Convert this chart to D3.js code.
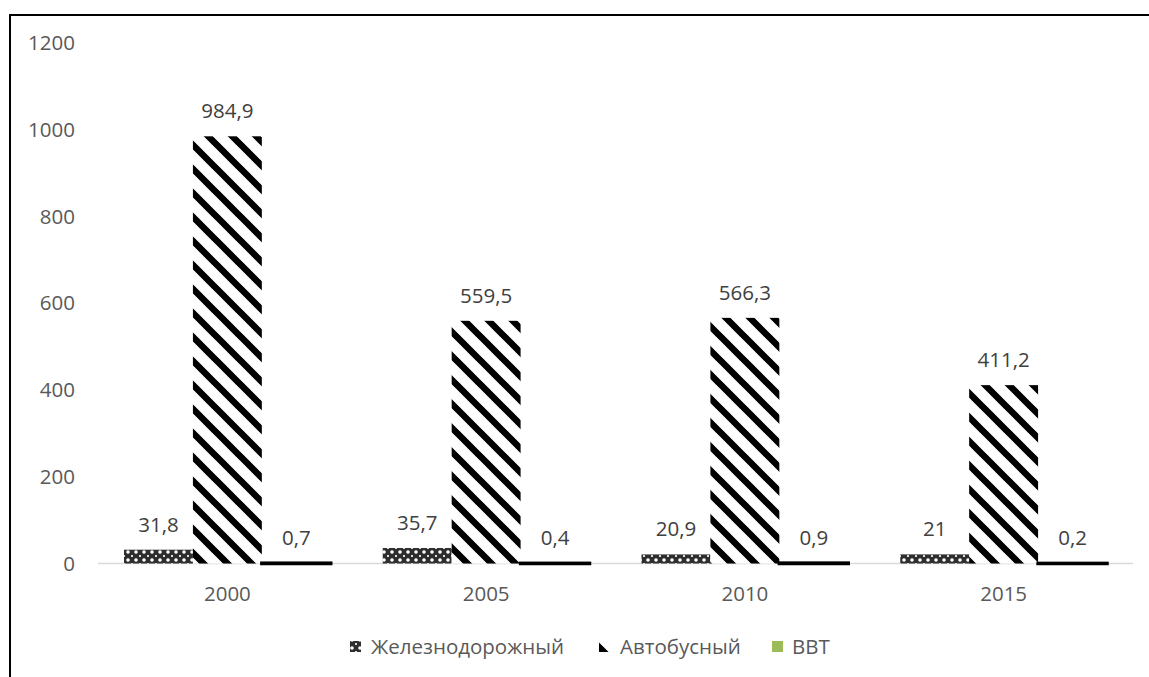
<!DOCTYPE html>
<html><head><meta charset="utf-8">
<script src="https://cdn.jsdelivr.net/npm/d3@7"></script>
<style>body{margin:0;background:#fff}svg{display:block}</style>
</head><body>
<svg id="c" width="1149" height="677"></svg>
<script>
const years = ["2000","2005","2010","2015"];
const seriesNames = ["Железнодорожный","Автобусный","ВВТ"];
const rail = [31.8, 35.7, 20.9, 21];
const bus = [984.9, 559.5, 566.3, 411.2];
const vvt = [0.7, 0.4, 0.9, 0.2];
const yTicks = [0,200,400,600,800,1000,1200];

const svg = d3.select("#c");
const font = "'Open Sans', sans-serif";
const fs = 20.5;
const txt = "#595959";
const defs = svg.append("defs");

// rail pattern
const pr = defs.append("pattern").attr("id","pRail").attr("patternUnits","userSpaceOnUse")
  .attr("width",8).attr("height",8);
pr.append("rect").attr("width",8).attr("height",8).attr("fill","#2e2e2e");
[[0,0],[8,0],[0,8],[8,8]].forEach(p=>pr.append("circle").attr("cx",p[0]).attr("cy",p[1]).attr("r",1.8).attr("fill","#fff"));
pr.append("rect").attr("x",3).attr("y",3).attr("width",2).attr("height",2).attr("fill","#ddd");

// bus pattern (wide downward diagonal)
const P = 24;
const pb = defs.append("pattern").attr("id","pBus").attr("patternUnits","userSpaceOnUse")
  .attr("width",P).attr("height",P);
pb.append("rect").attr("width",P).attr("height",P).attr("fill","#fff");
pb.append("path").attr("d",`M${-P},0L${P},${2*P}M0,${-P}L${2*P},${P}M${-P},${-P}L${2*P},${2*P}`)
  .attr("stroke","#000").attr("stroke-width",6.5);

const fills = ["url(#pRail)","url(#pBus)","#9BBB59"];

// frame
svg.append("path").attr("d","M10,677V15H1149").attr("fill","none").attr("stroke","#000").attr("stroke-width",2);

const x = d3.scaleBand().domain(years).range([98,1133]).paddingInner(0).paddingOuter(0);
const inner = d3.scaleBand().domain(seriesNames).range([26, x.bandwidth()-26]).padding(0);
const y = d3.scaleLinear().domain([0,1200]).range([563.5,43]);

// y axis labels
const yAxis = d3.axisLeft(y).tickValues(yTicks).tickFormat(d3.format("d")).tickSize(0).tickPadding(0);
const ya = svg.append("g").attr("transform","translate(75,0)").call(yAxis);
ya.select(".domain").remove();
ya.selectAll("text").attr("font-family",font).attr("font-size",fs).attr("fill",txt);

// baseline
svg.append("line").attr("x1",98).attr("x2",1133).attr("y1",y(0)).attr("y2",y(0))
  .attr("stroke","#d9d9d9").attr("stroke-width",1.5);

// x axis labels
const xAxis = d3.axisBottom(x).tickSize(0).tickPadding(0);
const xa = svg.append("g").attr("transform",`translate(0,${y(0)+23})`).call(xAxis);
xa.select(".domain").remove();
xa.selectAll("text").attr("font-family",font).attr("font-size",fs).attr("fill",txt).attr("dy","0.71em");

const data = [rail, bus, vvt];
const fmt = v => String(v).replace(".", ",");

data.forEach((vals, si) => {
  const g = svg.append("g");
  g.selectAll("rect").data(vals).join("rect")
    .attr("x",(d,i)=>x(years[i])+inner(seriesNames[si]))
    .attr("width",inner.bandwidth())
    .attr("y",d=>y(d))
    .attr("height",d=>y(0)-y(d))
    .attr("fill",fills[si])
    .attr("stroke", si===2 ? "#000" : "none")
    .attr("stroke-width", si===2 ? 3.5 : 0);
  g.selectAll("text").data(vals).join("text")
    .attr("x",(d,i)=>x(years[i])+inner(seriesNames[si])+inner.bandwidth()/2)
    .attr("y",d=>y(d)-18)
    .attr("text-anchor","middle")
    .attr("font-family",font).attr("font-size",fs).attr("fill","#404040")
    .text(fmt);
});

// legend
const legendItems = [
  {name:seriesNames[0], sx:350, tx:371},
  {name:seriesNames[1], sx:599, tx:620},
  {name:seriesNames[2], sx:772, tx:792}
];
const lg = svg.append("g");
legendItems.forEach((it, i) => {
  lg.append("rect").attr("x",it.sx).attr("y",641).attr("width",11).attr("height",11).attr("fill",fills[i]);
  lg.append("text").attr("x",it.tx).attr("y",654).attr("font-family",font).attr("font-size",fs)
    .attr("fill",txt).text(it.name);
});
</script>
</body></html>
